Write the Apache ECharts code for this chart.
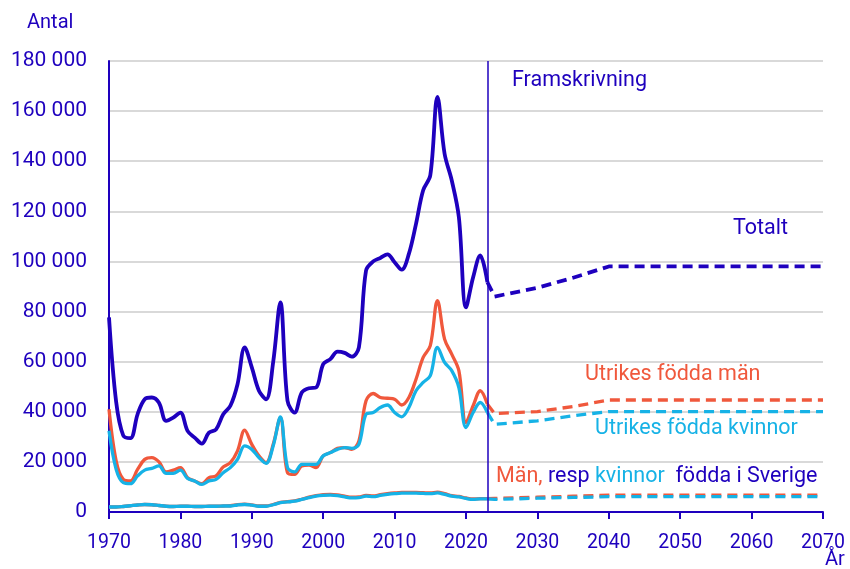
<!DOCTYPE html>
<html lang="sv">

<head>
    <meta charset="UTF-8">
    <title>Invandring</title>
    <script src="https://cdnjs.cloudflare.com/ajax/libs/echarts/6.0.0/echarts.min.js"></script>
    <style>
        body { margin: 0; background: #fff; }
    </style>
</head>

<body>
    <div id="main" style="width: 850px;height:569px;"></div>

    <script>
        // utfall 1970-2023
        var startYear = 1970;
        var totalt = [77700, 44000, 30500, 29500, 39000, 45000, 45700, 43600, 36400, 37700,
            39700, 32400, 29700, 27300, 31700, 33000, 39000, 42400, 51000, 65700,
            57700, 48400, 45000, 60000, 83700, 44400, 39700, 47700, 49400, 49700,
            59000, 61000, 64000, 63500, 62000, 65700, 96400, 100000, 101400, 102800,
            99700, 96700, 103000, 115000, 128400, 134400, 165700, 143000, 132400, 117700,
            81700, 93700, 102400, 91700];
        var utrMan = [41000, 20400, 13000, 12400, 17000, 21000, 21700, 20000, 16000, 16700,
            17700, 13700, 12400, 11300, 13700, 14400, 18000, 19700, 24400, 32700,
            27000, 22400, 19700, 27000, 37700, 15700, 15000, 18400, 18700, 17700,
            22400, 23700, 25400, 25700, 25000, 28400, 44400, 47300, 45700, 45400,
            45000, 42700, 45700, 53000, 61700, 66400, 84400, 69000, 63000, 56400,
            35700, 42400, 48400, 43000];
        var utrKvinnor = [32400, 17000, 11700, 11300, 14400, 16700, 17400, 18400, 15400, 15400,
            16700, 13400, 12400, 11000, 12400, 13000, 15700, 17700, 21000, 26400,
            25000, 21700, 19400, 26400, 38000, 17700, 16000, 19000, 19000, 19000,
            22400, 23700, 25000, 25700, 25400, 27000, 39000, 39700, 41700, 42700,
            39700, 38000, 41700, 48400, 51700, 54400, 65700, 59700, 56400, 49700,
            33700, 39700, 43700, 39700];
        var sveMan = [2000, 2000, 2200, 2500, 2800, 3000, 2900, 2600, 2300, 2200,
            2300, 2300, 2200, 2200, 2300, 2300, 2400, 2500, 2900, 3100,
            2800, 2400, 2400, 3000, 3800, 4100, 4400, 5100, 5900, 6500,
            6900, 7000, 6800, 6300, 5900, 6000, 6600, 6400, 6900, 7300,
            7600, 7800, 7800, 7800, 7700, 7600, 7900, 7300, 6500, 6200,
            5600, 5200, 5300, 5300];
        var sveKvinnor = [2000, 2000, 2200, 2500, 2800, 3000, 2900, 2600, 2300, 2200,
            2300, 2300, 2200, 2200, 2300, 2300, 2400, 2400, 2800, 3000,
            2700, 2300, 2300, 2900, 3700, 4000, 4300, 5000, 5700, 6300,
            6600, 6700, 6500, 6000, 5600, 5700, 6300, 6100, 6600, 7000,
            7300, 7500, 7500, 7500, 7400, 7300, 7600, 7000, 6300, 6000,
            5400, 5000, 5200, 5200];

        // framskrivning
        var projYears = [2023, 2024, 2030, 2035, 2040, 2070];
        var projTotalt = [91700, 86000, 89500, 93500, 98000, 98000];
        var projUtrMan = [43000, 39300, 40100, 42100, 44700, 44700];
        var projUtrKvinnor = [39700, 35000, 36400, 38400, 40100, 40100];
        var projSveMan = [5300, 5400, 5900, 6300, 6700, 6700];
        var projSveKvinnor = [5200, 5000, 5500, 5800, 6100, 6100];

        var yTicks = [0, 20000, 40000, 60000, 80000, 100000, 120000, 140000, 160000, 180000];

        var blue = '#1e00be', orange = '#f0583c', cyan = '#16b2e6';
        var font = 'Roboto';

        function hist(values) {
            return values.map(function (v, i) { return [startYear + i, v]; });
        }
        function proj(values) {
            return values.map(function (v, i) { return [projYears[i], v]; });
        }
        function fmt(v) {
            return String(v).replace(/\B(?=(\d{3})+(?!\d))/g, ' ');
        }

        function solid(name, values, color, w) {
            return {
                name: name, type: 'line', data: hist(values), smooth: 0.35,
                showSymbol: false, symbol: 'none',
                lineStyle: { color: color, width: w }
            };
        }
        function dashed(name, values, color, w) {
            return {
                name: name, type: 'line', data: proj(values),
                showSymbol: false, symbol: 'none',
                lineStyle: { color: color, width: w, type: [10, 6] }
            };
        }

        var chart1 = echarts.init(document.getElementById('main'));

        var totSeries = solid('Totalt', totalt, blue, 3.8);
        totSeries.markLine = {
            silent: true, symbol: 'none', label: { show: false },
            lineStyle: { color: blue, width: 1.5, type: 'solid' },
            data: [{ xAxis: 2023 }]
        };

        var txt = '21.5px Roboto';

        var option = {
            animation: false,
            grid: { left: 109, right: 27, top: 61, bottom: 57 },
            xAxis: {
                type: 'value', min: 1970, max: 2070, interval: 10,
                axisLine: { lineStyle: { color: blue, width: 2 } },
                axisTick: { show: true, length: 7, lineStyle: { color: blue, width: 2 } },
                axisLabel: {
                    color: blue, fontFamily: font, fontSize: 19.5, margin: 21,
                    formatter: function (v) { return String(v); }
                },
                splitLine: { show: false }
            },
            yAxis: {
                type: 'value', min: 0, max: 180000, interval: 20000,
                axisLine: { show: true, lineStyle: { color: blue, width: 2 } },
                axisTick: { show: false },
                axisLabel: {
                    color: blue, fontFamily: font, fontSize: 21, margin: 22,
                    formatter: function (v) { return yTicks.indexOf(v) >= 0 ? fmt(v) : ''; }
                },
                splitLine: { lineStyle: { color: '#d9d9d9', width: 2 } }
            },
            series: [
                totSeries,
                solid('Utrikes födda män', utrMan, orange, 3.3),
                solid('Utrikes födda kvinnor', utrKvinnor, cyan, 3.3),
                solid('Män födda i Sverige', sveMan, orange, 3.3),
                solid('Kvinnor födda i Sverige', sveKvinnor, cyan, 3.3),
                dashed('Totalt', projTotalt, blue, 3.8),
                dashed('Utrikes födda män', projUtrMan, orange, 3.3),
                dashed('Utrikes födda kvinnor', projUtrKvinnor, cyan, 3.3),
                dashed('Män födda i Sverige', projSveMan, orange, 3.3),
                dashed('Kvinnor födda i Sverige', projSveKvinnor, cyan, 3.3)
            ],
            graphic: [
                { type: 'text', left: 27, top: 13, style: { text: 'Antal', fill: blue, font: '20px Roboto' } },
                { type: 'text', left: 825, top: 550, style: { text: 'År', fill: blue, font: '20px Roboto' } },
                { type: 'text', left: 512, top: 70, style: { text: 'Framskrivning', fill: blue, font: txt } },
                { type: 'text', left: 733, top: 218, style: { text: 'Totalt', fill: blue, font: txt } },
                { type: 'text', left: 585, top: 364, style: { text: 'Utrikes födda män', fill: orange, font: txt } },
                { type: 'text', left: 595, top: 418, style: { text: 'Utrikes födda kvinnor', fill: cyan, font: txt } },
                {
                    type: 'text', left: 496, top: 466,
                    style: {
                        text: '{a|Män,} {b|resp} {c|kvinnor}  {b|födda i Sverige}',
                        font: txt,
                        rich: {
                            a: { fill: orange, fontFamily: font, fontSize: 21.5 },
                            b: { fill: blue, fontFamily: font, fontSize: 21.5 },
                            c: { fill: cyan, fontFamily: font, fontSize: 21.5 }
                        }
                    }
                }
            ]
        };

        chart1.setOption(option);
    </script>
</body>

</html>
